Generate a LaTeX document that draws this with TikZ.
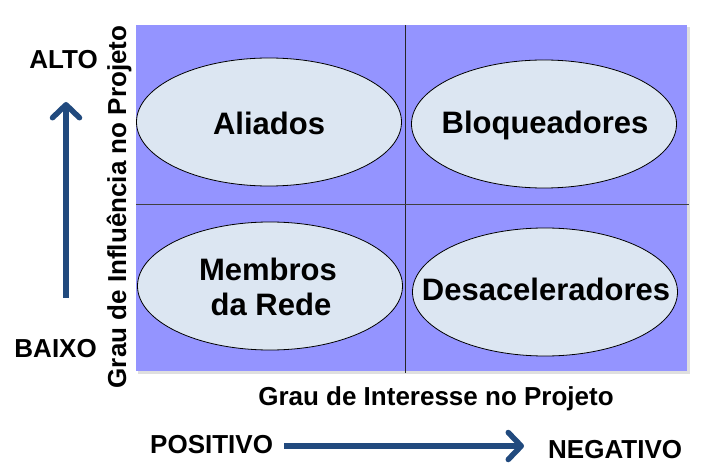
\documentclass[tikz,border=0pt]{standalone}
\usepackage{fontspec}
\setmainfont{Liberation Sans}
\usetikzlibrary{arrows.meta,shapes.geometric}

\definecolor{quadfill}{RGB}{148,148,255}
\definecolor{elipfill}{RGB}{220,230,242}
\definecolor{setacor}{RGB}{33,74,126}

\tikzset{
  quad/.style={ellipse, draw=black, fill=elipfill, line width=0.8pt,
    inner sep=0pt, minimum width=265pt, minimum height=128pt},
  rotulo/.style={font=\bfseries\fontsize{31}{36}\selectfont, anchor=base, inner sep=0pt},
  eixo/.style={font=\bfseries\fontsize{26}{30}\selectfont, inner sep=0pt},
  seta/.style={draw=setacor, line width=5.5pt,
    -{Straight Barb[length=13pt,width=27pt,line cap=round,line join=round]}}
}

\begin{document}
\begin{tikzpicture}[x=1pt,y=-1pt]
  \useasboundingbox (0,0) rectangle (723,470);

  % Quadrant background
  \fill[gray!25] (138,27) rectangle (690,374);
  \fill[quadfill] (136,25) rectangle (687,371);
  \draw[line width=0.9pt, black!85] (405,25) -- (405,373);
  \draw[line width=0.9pt, black!75] (136,204) -- (689,204);

  % Ellipses
  \node[quad] (aliados) at (269,122) {};
  \node[quad] (bloq) at (544,124) {};
  \node[quad] (membros) at (270,286) {};
  \node[quad] (desac) at (545,292) {};

  % Labels
  \node[rotulo] (taliados) at (269,135) {Aliados};
  \node[rotulo] (tbloq) at (545,134) {Bloqueadores};
  \node[rotulo] (tmembros) at (268,281) {Membros};
  \node[rotulo] (trede) at (271,316) {da Rede};
  \node[rotulo] (tdesac) at (546,301) {Desaceleradores};

  % Axis titles
  \node[eixo, anchor=base, rotate=90] (influencia) at (126,207) {Grau de Influência no Projeto};
  \node[eixo, anchor=base] (interesse) at (436,405) {Grau de Interesse no Projeto};

  % Vertical scale
  \node[eixo, anchor=base east] (alto) at (98,69) {ALTO};
  \node[eixo, anchor=base east] (baixo) at (97,357) {BAIXO};
  \coordinate (vbase) at (66,298);
  \coordinate (vtopo) at (66,102);
  \draw[seta] (vbase) -- (vtopo);

  % Horizontal scale
  \node[eixo, anchor=base west] (positivo) at (150,453) {POSITIVO};
  \node[eixo, anchor=base west] (negativo) at (548,458) {NEGATIVO};
  \coordinate (hini) at (284,446);
  \coordinate (hfim) at (524,446);
  \draw[seta] (hini) -- (hfim);
\end{tikzpicture}
\end{document}
